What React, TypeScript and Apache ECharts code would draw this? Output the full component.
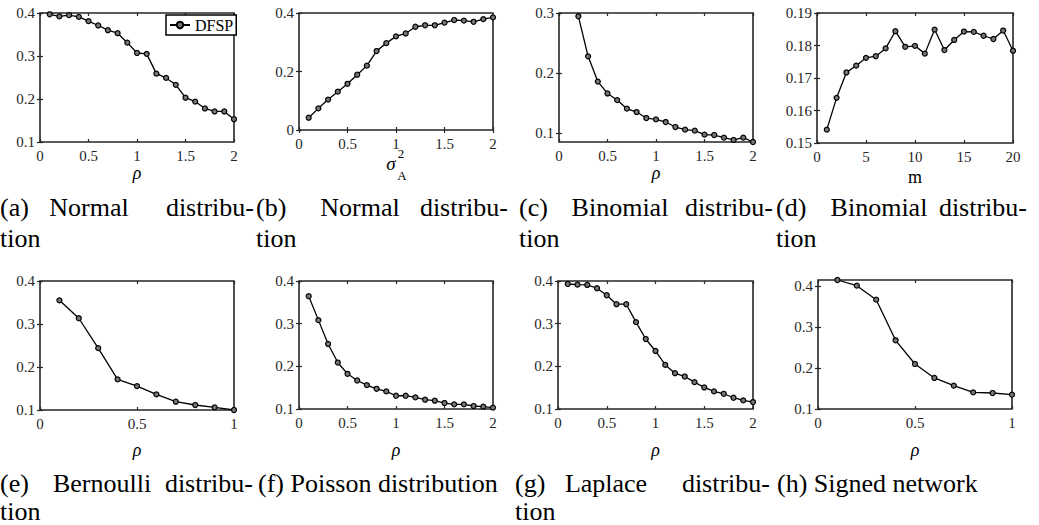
import React, { useEffect, useRef } from "react";
import * as echarts from "echarts";

// ---- data ----
const rho20 = [0.1, 0.2, 0.3, 0.4, 0.5, 0.6, 0.7, 0.8, 0.9, 1.0, 1.1, 1.2, 1.3, 1.4, 1.5, 1.6, 1.7, 1.8, 1.9, 2.0];
const rhoC = [0.2, 0.3, 0.4, 0.5, 0.6, 0.7, 0.8, 0.9, 1.0, 1.1, 1.2, 1.3, 1.4, 1.5, 1.6, 1.7, 1.8, 1.9, 2.0];
const mVals = [1, 2, 3, 4, 5, 6, 7, 8, 9, 10, 11, 12, 13, 14, 15, 16, 17, 18, 19, 20];
const rho10 = [0.1, 0.2, 0.3, 0.4, 0.5, 0.6, 0.7, 0.8, 0.9, 1.0];

const normalRho = [0.397, 0.392, 0.395, 0.391, 0.381, 0.371, 0.360, 0.353, 0.331, 0.307, 0.305, 0.259, 0.249, 0.233, 0.203, 0.194, 0.178, 0.171, 0.171, 0.153];
const normalSigma = [0.042, 0.074, 0.104, 0.131, 0.158, 0.189, 0.220, 0.270, 0.297, 0.320, 0.330, 0.353, 0.358, 0.358, 0.367, 0.376, 0.374, 0.370, 0.379, 0.385];
const binomialRho = [0.2945, 0.228, 0.186, 0.1663, 0.1553, 0.141, 0.1354, 0.1254, 0.1232, 0.1188, 0.1105, 0.1061, 0.1044, 0.0978, 0.0972, 0.0928, 0.089, 0.0928, 0.0856];
const binomialM = [0.1541, 0.1639, 0.1717, 0.1738, 0.1762, 0.1767, 0.1791, 0.1844, 0.1796, 0.1799, 0.1775, 0.1849, 0.1786, 0.1817, 0.1843, 0.1842, 0.1830, 0.1820, 0.1846, 0.1784];
const bernoulli = [0.355, 0.3134, 0.2438, 0.1711, 0.1556, 0.1363, 0.1193, 0.1116, 0.1062, 0.1];
const poisson = [0.3643, 0.3083, 0.2524, 0.2089, 0.1825, 0.1668, 0.1559, 0.1474, 0.1412, 0.1311, 0.1311, 0.1272, 0.1218, 0.1194, 0.1140, 0.1109, 0.1109, 0.107, 0.1054, 0.1031];
const laplace = [0.393, 0.3914, 0.3907, 0.383, 0.3666, 0.3456, 0.3456, 0.3036, 0.264, 0.236, 0.2034, 0.1839, 0.1761, 0.1629, 0.1505, 0.1412, 0.1357, 0.1264, 0.1202, 0.1163];
const signed = [0.4155, 0.4016, 0.3674, 0.268, 0.2101, 0.1759, 0.1571, 0.1408, 0.1391, 0.135];

const ticksX2 = [0, 0.5, 1, 1.5, 2];
const ticksX1 = [0, 0.5, 1];
const ticksX20 = [0, 5, 10, 15, 20];
const ticksY1 = [0.1, 0.2, 0.3, 0.4];
const ticksY0 = [0, 0.2, 0.4];
const ticksYc = [0.1, 0.2, 0.3];
const ticksYd = [0.15, 0.16, 0.17, 0.18, 0.19];

const legendName = "DFSP";

interface Panel {
  grid: { left: number; top: number; width: number; height: number };
  x: number[];
  y: number[];
  xr: [number, number];
  yr: [number, number];
  xt: number[];
  yt: number[];
  xname: string;
  gap: number;
}

const panels: Panel[] = [
  { grid: { left: 40, top: 13, width: 194, height: 129 }, x: rho20, y: normalRho, xr: [0, 2], yr: [0.1, 0.4], xt: ticksX2, yt: ticksY1, xname: "ρ", gap: 22 },
  { grid: { left: 299, top: 13, width: 194, height: 117 }, x: rho20, y: normalSigma, xr: [0, 2], yr: [0, 0.4], xt: ticksX2, yt: ticksY0, xname: "", gap: 22 },
  { grid: { left: 559, top: 13, width: 194, height: 129 }, x: rhoC, y: binomialRho, xr: [0, 2], yr: [0.0856, 0.3], xt: ticksX2, yt: ticksYc, xname: "ρ", gap: 22 },
  { grid: { left: 817, top: 13, width: 196, height: 130 }, x: mVals, y: binomialM, xr: [0, 20], yr: [0.15, 0.19], xt: ticksX20, yt: ticksYd, xname: "m", gap: 25 },
  { grid: { left: 40, top: 281, width: 194, height: 129 }, x: rho10, y: bernoulli, xr: [0, 1], yr: [0.1, 0.4], xt: ticksX1, yt: ticksY1, xname: "ρ", gap: 31 },
  { grid: { left: 299, top: 281, width: 194, height: 128 }, x: rho20, y: poisson, xr: [0, 2], yr: [0.1, 0.4], xt: ticksX2, yt: ticksY1, xname: "ρ", gap: 32 },
  { grid: { left: 558, top: 281, width: 195, height: 128 }, x: rho20, y: laplace, xr: [0, 2], yr: [0.1, 0.4], xt: ticksX2, yt: ticksY1, xname: "ρ", gap: 32 },
  { grid: { left: 818, top: 280, width: 194, height: 129 }, x: rho10, y: signed, xr: [0, 1], yr: [0.1, 0.4155], xt: ticksX1, yt: ticksY1, xname: "ρ", gap: 32 },
];

const SERIF = "Liberation Serif";
const AXIS_COLOR = "#262626";
const fmt = (v: number) => String(+Number(v).toFixed(3));

function txt(text: string, x: number, y: number, size: number, align: string, italic = false) {
  return {
    type: "text",
    x,
    y,
    silent: true,
    style: {
      text,
      fontSize: size,
      fontFamily: SERIF,
      fontStyle: italic ? "italic" : "normal",
      fill: "#000",
      align,
      textAlign: align,
      verticalAlign: "middle",
      textVerticalAlign: "middle",
    },
  };
}

const CAP = 26;
const R1 = 207;
const R2 = 238;
const R3 = 483;
const R4 = 511;
const captions = [
  // top row
  txt("(a)", 0, R1, CAP, "left"), txt("Normal", 89, R1, CAP, "center"), txt("distribu-", 254, R1, CAP, "right"), txt("tion", 0, R2, CAP, "left"),
  txt("(b)", 256, R1, CAP, "left"), txt("Normal", 360, R1, CAP, "center"), txt("distribu-", 508, R1, CAP, "right"), txt("tion", 256, R2, CAP, "left"),
  txt("(c)", 519, R1, CAP, "left"), txt("Binomial", 620, R1, CAP, "center"), txt("distribu-", 773, R1, CAP, "right"), txt("tion", 519, R2, CAP, "left"),
  txt("(d)", 776, R1, CAP, "left"), txt("Binomial", 879, R1, CAP, "center"), txt("distribu-", 1027, R1, CAP, "right"), txt("tion", 776, R2, CAP, "left"),
  // bottom row
  txt("(e)", 0, R3, CAP, "left"), txt("Bernoulli", 102, R3, CAP, "center"), txt("distribu-", 253, R3, CAP, "right"), txt("tion", 0, R4, CAP, "left"),
  txt("(f) Poisson distribution", 258, R3, CAP, "left"),
  txt("(g)", 515, R3, CAP, "left"), txt("Laplace", 606, R3, CAP, "center"), txt("distribu-", 770, R3, CAP, "right"), txt("tion", 515, R4, CAP, "left"),
  txt("(h) Signed network", 777, R3, CAP, "left"),
  // sigma_A^2 label of panel (b)
  txt("σ", 391, 163, 19, "center", true),
  txt("2", 401, 153, 13, "center"),
  txt("A", 402, 175, 13, "center"),
];

export default function App() {
  const ref = useRef<HTMLDivElement>(null);
  useEffect(() => {
    document.body.style.margin = "0";
    if (!ref.current) return;
    const chart = echarts.init(ref.current, undefined, { renderer: "svg" });

    const grids: any[] = [];
    const xAxes: any[] = [];
    const yAxes: any[] = [];
    const series: any[] = [];

    panels.forEach((p, i) => {
      grids.push({
        ...p.grid,
        show: true,
        borderColor: AXIS_COLOR,
        borderWidth: 1.6,
        backgroundColor: "transparent",
        containLabel: false,
      });
      const tick = (vals: number[]) => ({ show: true, inside: true, length: 3, customValues: vals, lineStyle: { color: AXIS_COLOR, width: 1.2 } });
      xAxes.push({
        type: "value",
        gridIndex: i,
        min: p.xr[0],
        max: p.xr[1],
        position: "bottom",
        axisLine: { show: false },
        splitLine: { show: false },
        axisTick: tick(p.xt),
        axisLabel: { show: true, customValues: p.xt, formatter: fmt, margin: 6, color: AXIS_COLOR, fontFamily: SERIF, fontSize: 15 },
        name: p.xname,
        nameLocation: "middle",
        nameGap: p.gap,
        nameTextStyle: { fontFamily: SERIF, fontSize: 18, fontStyle: p.xname === "m" ? "normal" : "italic", color: "#000" },
      });
      xAxes.push({
        type: "value",
        gridIndex: i,
        min: p.xr[0],
        max: p.xr[1],
        position: "top",
        axisLine: { show: false },
        splitLine: { show: false },
        axisTick: tick(p.xt),
        axisLabel: { show: false, customValues: p.xt },
      });
      yAxes.push({
        type: "value",
        gridIndex: i,
        min: p.yr[0],
        max: p.yr[1],
        position: "left",
        axisLine: { show: false },
        splitLine: { show: false },
        axisTick: tick(p.yt),
        axisLabel: { show: true, customValues: p.yt, formatter: fmt, margin: 5, color: AXIS_COLOR, fontFamily: SERIF, fontSize: 15 },
      });
      yAxes.push({
        type: "value",
        gridIndex: i,
        min: p.yr[0],
        max: p.yr[1],
        position: "right",
        axisLine: { show: false },
        splitLine: { show: false },
        axisTick: tick(p.yt),
        axisLabel: { show: false, customValues: p.yt },
      });
      series.push({
        type: "line",
        name: i === 0 ? legendName : "s" + i,
        xAxisIndex: 2 * i,
        yAxisIndex: 2 * i,
        data: p.x.map((x, k) => [x, p.y[k]]),
        symbol: "circle",
        symbolSize: 5,
        showSymbol: true,
        clip: false,
        lineStyle: { color: "#000", width: 1.3 },
        itemStyle: { color: "#777", borderColor: "#000", borderWidth: 1.2 },
        emphasis: { disabled: true },
      });
    });

    chart.setOption({
      animation: false,
      backgroundColor: "#fff",
      grid: grids,
      xAxis: xAxes,
      yAxis: yAxes,
      series,
      legend: {
        data: [legendName],
        left: 166,
        top: 15,
        orient: "horizontal",
        borderColor: "#000",
        borderWidth: 1.5,
        backgroundColor: "#fff",
        padding: [2, 3],
        itemWidth: 20,
        itemHeight: 8,
        selectedMode: false,
        textStyle: { fontFamily: SERIF, fontSize: 16, color: "#000" },
      },
      graphic: captions,
    });
    return () => chart.dispose();
  }, []);
  return <div ref={ref} style={{ width: 1039, height: 525 }} />;
}
